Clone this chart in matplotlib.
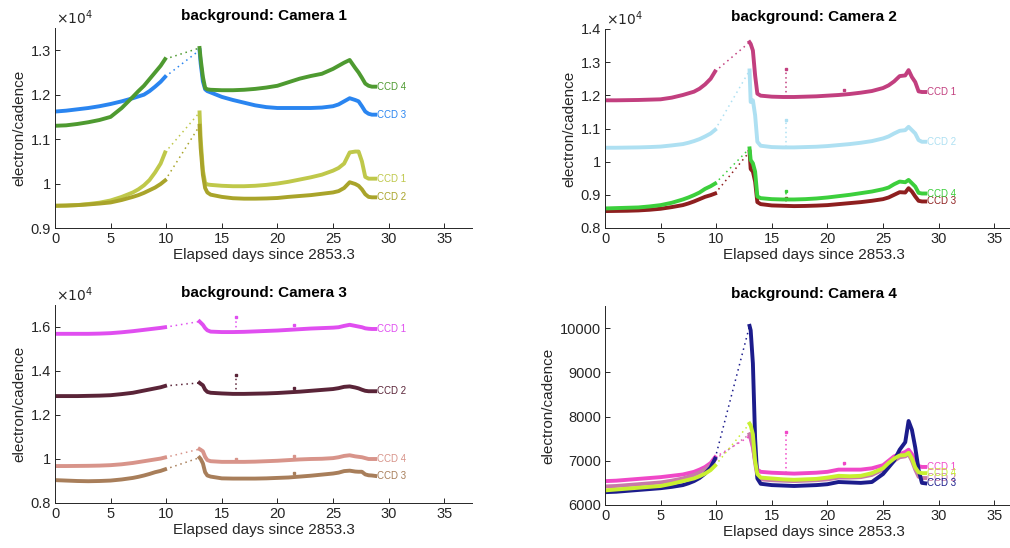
import numpy as np
import matplotlib
matplotlib.use("Agg")
import matplotlib.pyplot as plt
from matplotlib.ticker import FuncFormatter

plt.rcParams['font.family'] = ['Liberation Sans', 'DejaVu Sans']

# sample times (days since 2853.3) for the two orbits
t_orbit1 = [0, 1, 2, 3, 4, 5, 6, 7, 7.5, 8, 8.5, 9, 9.5, 9.9]
t_orbit2 = [13.0, 13.1, 13.3, 13.5, 13.7, 14, 15, 16, 17, 18, 19, 20, 21, 22, 23,
            24, 25, 25.5, 26, 26.5, 27, 27.3, 27.6, 27.9, 28.2, 28.5, 28.8]

ccd_names = ["CCD 1", "CCD 2", "CCD 3", "CCD 4"]

# camera 1 (electron/cadence)
cam1_orbit1 = [
    [9500, 9505, 9515, 9540, 9570, 9620, 9700, 9800, 9870, 9960, 10080, 10250, 10450, 10700],
    [9500, 9505, 9515, 9530, 9550, 9575, 9630, 9700, 9740, 9790, 9850, 9910, 9990, 10070],
    [11620, 11640, 11670, 11700, 11740, 11790, 11850, 11920, 11960, 12000, 12080, 12180, 12290, 12400],
    [11300, 11310, 11340, 11380, 11430, 11500, 11700, 11950, 12080, 12200, 12350, 12500, 12650, 12800],
]
cam1_orbit2 = [
    [11600, 11000, 10300, 10010, 9980, 9970, 9950, 9940, 9940, 9950, 9970, 10000, 10040, 10090,
     10140, 10200, 10290, 10350, 10450, 10700, 10720, 10720, 10500, 10150, 10110, 10110, 10110],
    [11300, 10800, 10200, 9900, 9800, 9750, 9700, 9670, 9660, 9660, 9665, 9675, 9700, 9720,
     9740, 9770, 9800, 9830, 9900, 10030, 9990, 9950, 9870, 9760, 9700, 9690, 9690],
    [13000, 12700, 12300, 12120, 12080, 12050, 11950, 11880, 11820, 11760, 11720, 11700, 11700, 11700,
     11700, 11710, 11740, 11780, 11850, 11920, 11880, 11850, 11740, 11620, 11570, 11550, 11550],
    [13050, 12800, 12400, 12150, 12120, 12110, 12100, 12100, 12110, 12130, 12160, 12200, 12280, 12360,
     12420, 12470, 12580, 12650, 12720, 12780, 12600, 12500, 12380, 12250, 12200, 12180, 12180],
]
cam1_spikes = [[], [], [], []]

# camera 2
cam2_orbit1 = [
    [11850, 11850, 11855, 11860, 11870, 11880, 11930, 12010, 12060, 12110, 12200, 12330, 12500, 12720],
    [10420, 10420, 10425, 10430, 10440, 10455, 10490, 10530, 10570, 10620, 10680, 10760, 10850, 10960],
    [8510, 8515, 8520, 8530, 8550, 8580, 8630, 8690, 8740, 8800, 8870, 8940, 8990, 9040],
    [8590, 8600, 8610, 8620, 8650, 8690, 8760, 8860, 8920, 8990, 9070, 9180, 9260, 9340],
]
cam2_orbit2 = [
    [13600, 13550, 13350, 12600, 12050, 11990, 11960, 11950, 11950, 11960, 11970, 11990, 12010, 12040,
     12080, 12130, 12220, 12300, 12420, 12580, 12600, 12760, 12550, 12400, 12120, 12100, 12100],
    [12750, 11800, 11850, 11400, 10600, 10480, 10440, 10430, 10430, 10440, 10450, 10470, 10500, 10530,
     10570, 10620, 10700, 10760, 10850, 10930, 10950, 11050, 10950, 10850, 10650, 10600, 10600],
    [10300, 9780, 9700, 9400, 8780, 8720, 8680, 8670, 8660, 8665, 8675, 8690, 8720, 8750,
     8780, 8820, 8870, 8920, 9000, 9080, 9070, 9200, 9100, 8950, 8820, 8800, 8800],
    [10400, 10050, 9950, 9700, 8950, 8900, 8870, 8860, 8860, 8870, 8890, 8920, 8960, 9000,
     9050, 9100, 9170, 9220, 9320, 9400, 9380, 9450, 9350, 9250, 9060, 9040, 9040],
]
cam2_spikes = [[(16.3, 12800), (21.5, 12150)], [(16.3, 11250)], [(16.3, 8900)], [(16.3, 9130)]]

# camera 3
cam3_orbit1 = [
    [15690, 15690, 15690, 15690, 15700, 15720, 15760, 15810, 15840, 15870, 15900, 15930, 15960, 15990],
    [12860, 12860, 12860, 12870, 12880, 12900, 12950, 13010, 13060, 13110, 13160, 13210, 13260, 13320],
    [9040, 9020, 9000, 8990, 9000, 9020, 9070, 9140, 9190, 9250, 9320, 9400, 9460, 9530],
    [9680, 9680, 9685, 9690, 9700, 9720, 9760, 9820, 9860, 9900, 9940, 9980, 10020, 10070],
]
cam3_orbit2 = [
    [16250, 16200, 16100, 15950, 15850, 15790, 15770, 15770, 15780, 15800, 15820, 15840, 15870, 15900,
     15930, 15950, 15970, 15990, 16050, 16100, 16050, 16020, 15990, 15940, 15920, 15910, 15910],
    [13460, 13420, 13350, 13150, 13050, 13010, 12980, 12960, 12960, 12970, 12980, 13000, 13030, 13060,
     13100, 13140, 13180, 13220, 13280, 13300, 13250, 13210, 13150, 13100, 13080, 13080, 13080],
    [10060, 10000, 9800, 9400, 9250, 9200, 9120, 9110, 9110, 9110, 9120, 9140, 9160, 9200,
     9240, 9290, 9340, 9380, 9450, 9470, 9430, 9420, 9420, 9300, 9260, 9250, 9230],
    [10450, 10420, 10350, 10100, 9950, 9900, 9870, 9870, 9870, 9880, 9900, 9920, 9950, 9980,
     10000, 10010, 10040, 10080, 10140, 10170, 10120, 10100, 10080, 10040, 10000, 10000, 10000],
]
cam3_spikes = [[(16.3, 16440), (21.5, 16080)], [(16.3, 13800), (21.5, 13230)],
               [(21.5, 9350)], [(16.3, 10020), (21.5, 10140)]]

# camera 4
cam4_orbit1 = [
    [6540, 6550, 6570, 6590, 6610, 6630, 6660, 6690, 6720, 6750, 6800, 6860, 6950, 7080],
    [6420, 6430, 6450, 6470, 6490, 6510, 6550, 6600, 6640, 6680, 6740, 6810, 6900, 7030],
    [6290, 6300, 6320, 6340, 6360, 6380, 6410, 6450, 6490, 6540, 6610, 6710, 6850, 7050],
    [6330, 6350, 6370, 6390, 6410, 6430, 6480, 6540, 6570, 6600, 6650, 6710, 6790, 6890],
]
cam4_orbit2 = [
    [7550, 7500, 7300, 7000, 6800, 6750, 6730, 6720, 6710, 6720, 6730, 6750, 6800, 6800,
     6800, 6830, 6900, 7000, 7100, 7150, 7200, 7250, 7150, 7000, 6880, 6860, 6860],
    [7600, 7550, 7350, 6950, 6650, 6580, 6560, 6550, 6540, 6550, 6560, 6580, 6620, 6620,
     6630, 6680, 6800, 6900, 7000, 7080, 7100, 7150, 7000, 6800, 6640, 6610, 6610],
    [10050, 9950, 9200, 7500, 6600, 6480, 6450, 6440, 6430, 6440, 6450, 6470, 6520, 6510,
     6500, 6520, 6700, 6850, 7000, 7250, 7420, 7900, 7700, 7300, 6800, 6500, 6490],
    [7840, 7800, 7600, 7000, 6700, 6620, 6600, 6580, 6570, 6580, 6590, 6620, 6660, 6650,
     6660, 6720, 6830, 6950, 7050, 7120, 7130, 7180, 7050, 6850, 6740, 6720, 6720],
]
cam4_spikes = [[(16.3, 7660), (21.5, 6950)], [], [], []]

colors1 = ["#bfc84a", "#a9a42a", "#2a85f0", "#4e9a30"]
colors2 = ["#c23f7f", "#aee0f2", "#8e1f1f", "#3ccf3c"]
colors3 = ["#e04ef0", "#5a2438", "#a87e5a", "#d8948a"]
colors4 = ["#f048c8", "#c87aa8", "#1c1c8c", "#c8f030"]

cameras = [
    ("background: Camera 1", cam1_orbit1, cam1_orbit2, cam1_spikes, colors1, (9000, 13500), np.arange(9000, 13001, 1000), True),
    ("background: Camera 2", cam2_orbit1, cam2_orbit2, cam2_spikes, colors2, (8000, 14000), np.arange(8000, 14001, 1000), True),
    ("background: Camera 3", cam3_orbit1, cam3_orbit2, cam3_spikes, colors3, (8000, 17000), np.arange(8000, 16001, 2000), True),
    ("background: Camera 4", cam4_orbit1, cam4_orbit2, cam4_spikes, colors4, (6000, 10500), np.arange(6000, 10001, 1000), False),
]

W, H = 1010, 548
positions = [(55, 28, 228), (605, 29, 228), (55, 305, 503), (605, 306, 505)]
ax_w = 417
gray = "#262626"

fig = plt.figure(figsize=(W / 100, H / 100), dpi=100)

for (title, o1, o2, spikes, cols, ylim, yticks, sci), (px, ptop, pbot) in zip(cameras, positions):
    ax = fig.add_axes([px / W, 1 - pbot / H, ax_w / W, (pbot - ptop) / H])
    for i in range(4):
        c = cols[i]
        # dotted link across the data gap
        ax.plot([t_orbit1[-1], t_orbit2[0]], [o1[i][-1], o2[i][0]], color=c,
                lw=1.1, ls=(0, (1, 2.5)))
        for sp_t, sp_v in spikes[i]:
            base = np.interp(sp_t, t_orbit2, o2[i])
            ax.plot([sp_t, sp_t], [base, sp_v], color=c, lw=1.1, ls=(0, (1, 2)))
            ax.plot(sp_t, sp_v, marker='s', ms=2, color=c)
        ax.plot(t_orbit1, o1[i], color=c, lw=2.8, solid_joinstyle='round')
        ax.plot(t_orbit2, o2[i], color=c, lw=2.8, solid_joinstyle='round')
        ax.text(29.0, o2[i][-1], ccd_names[i], color=c, fontsize=7,
                ha='left', va='center')

    ax.set_xlim(0, 37.5)
    ax.set_ylim(*ylim)
    ax.set_xticks([0, 5, 10, 15, 20, 25, 30, 35])
    ax.set_yticks(yticks)
    if sci:
        ax.yaxis.set_major_formatter(FuncFormatter(lambda v, p: f"{v / 1e4:g}"))
        ax.annotate(r"$\times10^4$", xy=(0, 1), xycoords='axes fraction',
                    xytext=(1, 1), textcoords='offset points', fontsize=10,
                    color=gray, ha='left', va='bottom')
    for side in ['top', 'right']:
        ax.spines[side].set_visible(False)
    for side in ['left', 'bottom']:
        ax.spines[side].set_color(gray)
        ax.spines[side].set_linewidth(0.7)
    ax.tick_params(direction='in', length=3.5, width=0.7, colors=gray,
                   labelsize=10.5, pad=3)
    ax.set_title(title, fontsize=11, fontweight='bold', pad=6)
    ax.set_xlabel("Elapsed days since 2853.3", fontsize=11, color=gray, labelpad=1)
    ax.set_ylabel("electron/cadence", fontsize=11, color=gray, labelpad=3)

fig.savefig("out.png", dpi=100)
